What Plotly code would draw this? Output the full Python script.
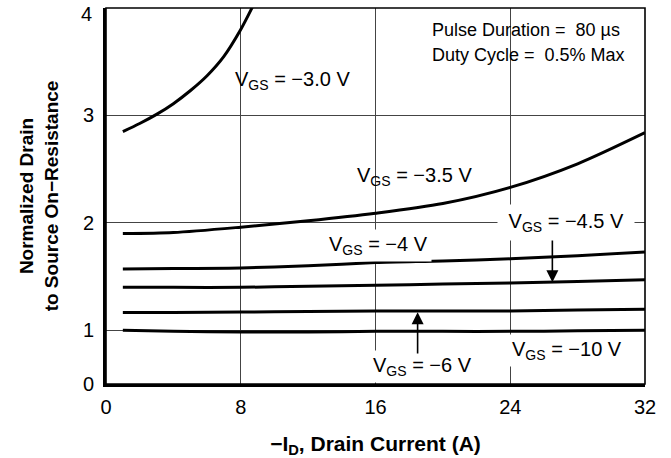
import plotly.graph_objects as go

# ---- data ----
id_common = [1, 4, 8, 12, 16, 20, 24, 28, 32]

id_vgs_30 = [1, 2, 3, 4, 5, 6, 7, 8, 8.6, 9.0]
r_vgs_30 = [2.85, 2.925, 3.01, 3.11, 3.23, 3.37, 3.55, 3.80, 3.98, 4.11]

r_vgs_35 = [1.90, 1.91, 1.96, 2.02, 2.09, 2.18, 2.33, 2.55, 2.84]
r_vgs_40 = [1.57, 1.575, 1.58, 1.60, 1.63, 1.645, 1.665, 1.695, 1.73]
r_vgs_45 = [1.40, 1.40, 1.40, 1.41, 1.42, 1.43, 1.44, 1.455, 1.47]
r_vgs_60 = [1.165, 1.165, 1.17, 1.175, 1.18, 1.18, 1.18, 1.19, 1.195]
r_vgs_100 = [1.0, 0.99, 0.985, 0.985, 0.99, 0.99, 0.99, 0.995, 1.0]

x_ticks = [0, 8, 16, 24, 32]
x_ticktext = ["0", "8", "16", "24", "32"]
# the bottom of the chart is labelled 0 but sits half a unit below 1 (broken axis)
y_ticks = [0.5, 1, 2, 3, 4]
y_ticktext = ["0", "1", "2", "3", ""]   # "4" is drawn as an annotation (sits a bit lower)
y_top_label = "4"

FONT = "Liberation Sans, Arial, Helvetica, sans-serif"

fig = go.Figure()

line_style = dict(color="black", width=3, shape="spline", smoothing=0.8)
fig.add_trace(go.Scatter(x=id_vgs_30, y=r_vgs_30, mode="lines", line=line_style))
for ys in [r_vgs_35, r_vgs_40, r_vgs_45, r_vgs_60, r_vgs_100]:
    fig.add_trace(go.Scatter(x=id_common, y=ys, mode="lines", line=line_style))

lab_font = dict(family=FONT, size=20, color="black")
labels = [
    # text, x, y, white background
    ("V<sub>GS</sub> = −3.0 V", 7.4, 3.33, False),
    ("V<sub>GS</sub> = −3.5 V", 14.67, 2.43, False),
    ("V<sub>GS</sub> = −4 V", 13.0, 1.79, True),
    ("V<sub>GS</sub> = −6 V", 15.62, 0.66, True),
    ("V<sub>GS</sub> = −10 V", 23.87, 0.81, True),
]
annotations = []
for t, x, y, bg in labels:
    annotations.append(dict(
        text=t, x=x, y=y, xref="x", yref="y", xanchor="left", yanchor="middle",
        showarrow=False, font=lab_font,
        bgcolor="white" if bg else "rgba(0,0,0,0)", borderpad=3,
    ))

# arrows
arrow_common = dict(xref="x", yref="y", axref="x", ayref="y", text="",
                    showarrow=True, arrowhead=2, arrowsize=1.5, arrowwidth=1.6,
                    arrowcolor="black", standoff=0, startstandoff=0)
annotations.append(dict(x=26.5, y=1.447, ax=26.5, ay=1.87, **arrow_common))
annotations.append(dict(x=18.5, y=1.168, ax=18.5, ay=0.77, **arrow_common))

# -4.5 V label (white box interrupts the gridline)
annotations.append(dict(
    text=" V<sub>GS</sub> = −4.5 V ", x=23.57, y=2.0, xref="x", yref="y",
    xanchor="left", yanchor="middle", showarrow=False, font=lab_font,
    bgcolor="white", borderpad=5, xshift=-6,
))

note_font = dict(family=FONT, size=18, color="black")
annotations.append(dict(text="Pulse Duration =  80 µs", x=19.25, y=3.795,
                        xref="x", yref="y", xanchor="left", yanchor="middle",
                        showarrow=False, font=note_font))
annotations.append(dict(text="Duty Cycle =  0.5% Max", x=19.25, y=3.56,
                        xref="x", yref="y", xanchor="left", yanchor="middle",
                        showarrow=False, font=note_font))

# top y tick label, nudged down like the reference
annotations.append(dict(text=y_top_label, x=0, y=4, xref="paper", yref="y",
                        xanchor="right", yanchor="middle", xshift=-12, yshift=-6,
                        showarrow=False, font=dict(family=FONT, size=20, color="black")))

fig.update_layout(
    width=671, height=458,
    margin=dict(l=106, r=26, t=8, b=74, autoexpand=False),
    paper_bgcolor="white", plot_bgcolor="white",
    showlegend=False,
    annotations=annotations,
    shapes=[dict(type="rect", xref="paper", yref="paper", x0=0, x1=1, y0=0, y1=1,
                 line=dict(color="black", width=1.6), layer="above")],
    font=dict(family=FONT, color="black"),
)

fig.update_xaxes(
    range=[0, 32], tickvals=x_ticks, ticktext=x_ticktext, automargin=False,
    showgrid=True, gridcolor="#444", gridwidth=1.3,
    zeroline=False, showline=True, linecolor="black", linewidth=3,
    ticks="outside", ticklen=3, tickcolor="rgba(0,0,0,0)",
    ticklabeloverflow="allow",
    tickfont=dict(family=FONT, size=20, color="black"),
    title=dict(text="<b>−I<sub>D</sub>, Drain Current (A)</b>",
               font=dict(family=FONT, size=21, color="black"), standoff=20),
)
fig.update_yaxes(
    range=[0.5, 4.0005], tickvals=y_ticks, ticktext=y_ticktext, automargin=False,
    showgrid=True, gridcolor="#444", gridwidth=1.3,
    zeroline=False, showline=True, linecolor="black", linewidth=3,
    ticks="outside", ticklen=5, tickcolor="rgba(0,0,0,0)",
    ticklabeloverflow="allow",
    tickfont=dict(family=FONT, size=20, color="black"),
    title=dict(text="<b>Normalized Drain<br>to Source On−Resistance</b>",
               font=dict(family=FONT, size=19, color="black"), standoff=20),
)

fig.write_html("out.html",
               config={"displayModeBar": False},
               post_script="document.body.style.margin='0px';")
